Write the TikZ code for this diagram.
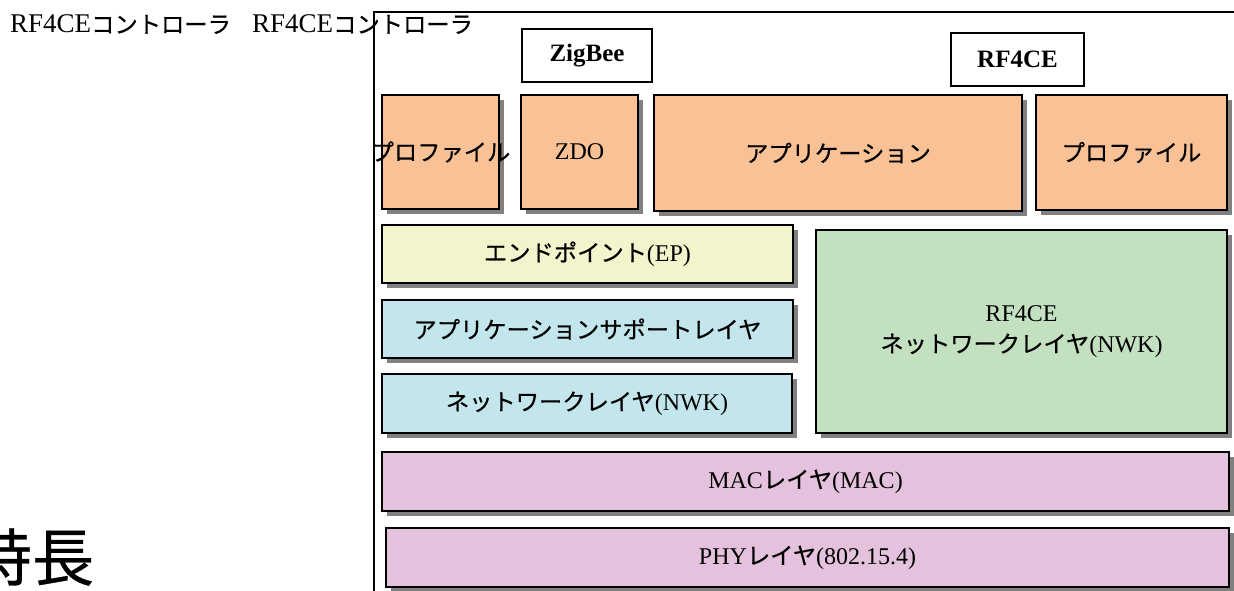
\documentclass[tikz,border=0pt]{standalone}
\usepackage{fontspec}
\setmainfont{Liberation Serif}
\newfontfamily\jp[Scale=0.97,FakeBold=0.5]{Noto Sans CJK JP}
\newcommand\J[1]{{\jp #1}}
\newcommand\JT[1]{{\jp\fontsize{24}{30}\selectfont #1}}
\usetikzlibrary{shadows}
\definecolor{cOrange}{RGB}{249,193,150}
\definecolor{cYellow}{RGB}{243,243,204}
\definecolor{cBlue}{RGB}{195,230,236}
\definecolor{cGreen}{RGB}{195,224,192}
\definecolor{cPink}{RGB}{228,193,220}
\definecolor{cShadow}{RGB}{128,128,128}
\begin{document}
\begin{tikzpicture}[x=1pt,y=-1pt,
  layerbox/.style={draw=black, line width=2pt, inner sep=0pt, align=center,
    font=\fontsize{24}{28}\selectfont,
    drop shadow={shadow xshift=5pt, shadow yshift=-5pt, fill=cShadow, opacity=1}},
  tagbox/.style={draw=black, line width=2pt, fill=white, inner sep=0pt,
    font=\fontsize{25}{28}\selectfont\bfseries},
  toptext/.style={inner sep=0pt, anchor=base west, font=\fontsize{27}{30}\selectfont},
  frameline/.style={draw=black, line width=2pt}]
\useasboundingbox (0,0) rectangle (1234,591);
% frame
\coordinate (fb) at (374,591);
\coordinate (fc) at (374,12);
\coordinate (fr) at (1234,12);
\draw[frameline] (fb) -- (fc) -- (fr);
% top labels
\node[toptext] (t1) at (10,33) {RF4CE\JT{コントローラ}};
\node[toptext] (t2) at (252,33) {RF4CE\JT{コントローラ}};
% bottom-left title
\node[inner sep=0pt, font=\jp\fontsize{64}{68}\selectfont] (title) at (32,557) {特長};
% tags
\node[tagbox, minimum width=130pt, minimum height=53pt] (zigbee) at (587,55.5) {ZigBee};
\node[tagbox, minimum width=133pt, minimum height=53pt] (rf4ce) at (1017.5,59.5) {RF4CE};
% top row
\node[layerbox, fill=cOrange, minimum width=117pt, minimum height=114pt] (prof1) at (440.5,152) {\makebox[0pt]{\J{プロファイル}}};
\node[layerbox, fill=cOrange, minimum width=117pt, minimum height=114pt] (zdo) at (579.5,152) {ZDO};
\node[layerbox, fill=cOrange, minimum width=368pt, minimum height=116pt] (app) at (838,153) {\J{アプリケーション}};
\node[layerbox, fill=cOrange, minimum width=191pt, minimum height=115pt] (prof2) at (1131.5,152.5) {\J{プロファイル}};
% zigbee stack
\node[layerbox, fill=cYellow, minimum width=411pt, minimum height=58pt] (ep) at (587.5,254) {\J{エンドポイント}(EP)};
\node[layerbox, fill=cBlue, minimum width=411pt, minimum height=58pt] (aps) at (587.5,329) {\J{アプリケーションサポートレイヤ}};
\node[layerbox, fill=cBlue, minimum width=410pt, minimum height=59pt] (nwk) at (587,403.5) {\J{ネットワークレイヤ}(NWK)};
% rf4ce nwk
\node[layerbox, fill=cGreen, minimum width=411pt, minimum height=203pt] (rnwk) at (1021.5,331.5) {RF4CE\\[3pt]\J{ネットワークレイヤ}(NWK)};
% mac / phy
\node[layerbox, fill=cPink, minimum width=847pt, minimum height=59pt] (mac) at (805.5,481.5) {MAC\J{レイヤ}(MAC)};
\node[layerbox, fill=cPink, minimum width=843pt, minimum height=59pt] (phy) at (807.5,557.5) {PHY\J{レイヤ}(802.15.4)};
\end{tikzpicture}
\end{document}
